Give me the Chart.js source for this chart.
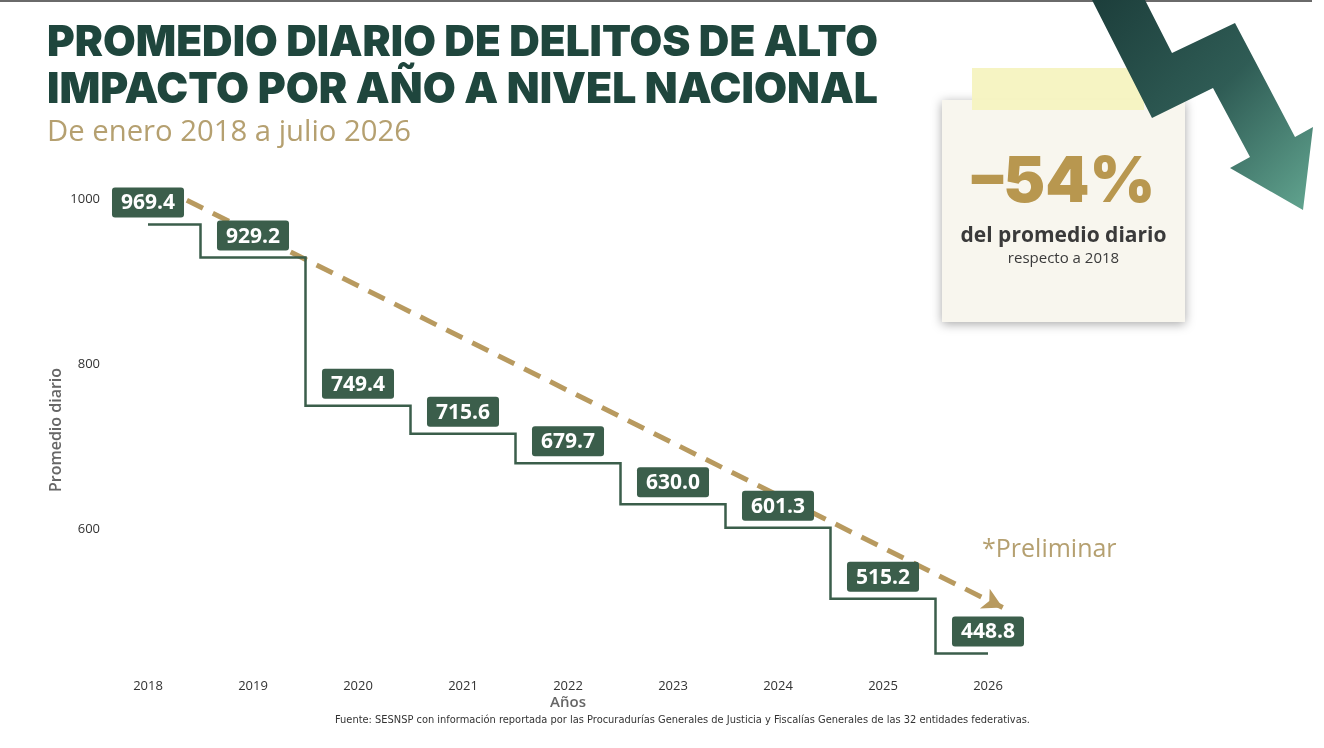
<!DOCTYPE html>
<html lang="es">
<head>
<meta charset="utf-8">
<title>Promedio diario de delitos de alto impacto</title>
<script src="https://cdn.jsdelivr.net/npm/chart.js@4.4.1/dist/chart.umd.min.js"></script>
<style>
  html, body { margin: 0; padding: 0; background: #fff; width: 1324px; height: 748px; overflow: hidden; font-family: 'Open Sans', sans-serif; }
  #wrap { position: relative; width: 1324px; height: 748px; }
  #topbar { position: absolute; left: 0; top: 0; width: 1312px; height: 2px; background: #6a6a6a; }
  #chart { position: absolute; left: 0; top: 0; }
  .abs { position: absolute; white-space: nowrap; }
  .title { left: 47px; font-family: Inter, 'Noto Sans', sans-serif; font-weight: 900; font-size: 43px; line-height: 1; color: #1f463d; transform-origin: left center; }
  #subtitle { left: 47px; top: 115px; font-size: 30px; line-height: 1; color: #b5a070; transform-origin: left center; }
  #card { left: 942px; top: 100px; width: 243px; height: 222px; background: #f8f6ee; box-shadow: 0 2px 10px rgba(0,0,0,0.35); }
  #tape { left: 972px; top: 68px; width: 172px; height: 42px; background: rgba(246,243,192,0.95); }
  .cardtxt { left: 942px; width: 243px; text-align: center; }
  #pct { top: 148px; font-family: Inter, sans-serif; font-weight: 900; font-size: 63px; line-height: 1; color: #b8974f; }
  #pctsub { top: 222px; font-size: 21px; font-weight: 700; line-height: 1.2; color: #3a3a3a; }
  #pctsub2 { top: 248px; font-size: 15px; line-height: 1.2; color: #3a3a3a; }
  #prelim { left: 982px; top: 531px; font-size: 25px; line-height: 1.3; color: #b5a070; }
  #source { left: 335px; top: 713px; font-family: 'Liberation Sans Narrow', 'DejaVu Sans Condensed', sans-serif; font-size: 11px; line-height: 1.2; color: #333; transform-origin: left center; }
  #arrow { position: absolute; left: 0; top: 0; pointer-events: none; }
</style>
</head>
<body>
<div id="wrap">
  <div id="topbar"></div>
  <canvas id="chart" width="1324" height="748"></canvas>

  <div class="abs title" id="t1" style="top:19px">PROMEDIO DIARIO DE DELITOS DE ALTO</div>
  <div class="abs title" id="t2" style="top:66px">IMPACTO POR AÑO A NIVEL NACIONAL</div>
  <div class="abs" id="subtitle">De enero 2018 a julio 2026</div>

  <div class="abs" id="card"></div>
  <div class="abs" id="tape"></div>
  <div class="abs cardtxt" id="pct">–54%</div>
  <div class="abs cardtxt" id="pctsub">del promedio diario</div>
  <div class="abs cardtxt" id="pctsub2">respecto a 2018</div>

  <svg id="arrow" width="1324" height="748">
    <defs>
      <linearGradient id="arrowGrad" x1="1100" y1="0" x2="1310" y2="210" gradientUnits="userSpaceOnUse">
        <stop offset="0" stop-color="#1d3f3c"/>
        <stop offset="0.5" stop-color="#2f5c55"/>
        <stop offset="1" stop-color="#62a590"/>
      </linearGradient>
    </defs>
    <polygon fill="url(#arrowGrad)"
      points="1092,0 1145,0 1172,53 1235,23 1295,137 1313,127 1303,210 1230,168 1250,157 1213,88 1152,118"/>
  </svg>

  <div class="abs" id="prelim">*Preliminar</div>
  <div class="abs" id="source">Fuente: SESNSP con información reportada por las Procuradurías Generales de Justicia y Fiscalías Generales de las 32 entidades federativas.</div>
</div>

<script>
// Data
const years = [2018, 2019, 2020, 2021, 2022, 2023, 2024, 2025, 2026];
const dailyAverage = [969.4, 929.2, 749.4, 715.6, 679.7, 630.0, 601.3, 515.2, 448.8];
const yTickValues = [600, 800, 1000];

// Dashed trend arrow (start / end, in data units)
const trendYears = [2018.37, 2026.14];
const trendValues = [998.8, 504.5];

const GREEN = '#3b5e4b';
const GOLD = '#b89a5f';

// Stretch a text block to a target width (condensed display fonts are not installed)
function fitWidth(id, target) {
    const el = document.getElementById(id);
    el.style.display = 'inline-block';
    const w = el.getBoundingClientRect().width;
    el.style.transform = `scaleX(${target / w})`;
}

// Boxed value labels above each step
const valueBoxes = {
    id: 'valueBoxes',
    afterDatasetsDraw(chart) {
        const { ctx } = chart;
        const meta = chart.getDatasetMeta(0);
        ctx.save();
        ctx.font = 'bold 21px "Open Sans"';
        ctx.textAlign = 'center';
        ctx.textBaseline = 'middle';
        meta.data.forEach((pt, i) => {
            const txt = dailyAverage[i].toFixed(1);
            const w = ctx.measureText(txt).width + 18;
            const h = 30;
            const cx = pt.x;
            const cy = pt.y - 22;
            ctx.fillStyle = GREEN;
            ctx.beginPath();
            ctx.roundRect(cx - w / 2, cy - h / 2, w, h, 3);
            ctx.fill();
            ctx.fillStyle = '#fff';
            ctx.fillText(txt, cx, cy + 1);
        });
        ctx.restore();
    }
};

// Arrow head at the end of the trend line
const trendHead = {
    id: 'trendHead',
    afterDatasetsDraw(chart) {
        const pts = chart.getDatasetMeta(1).data;
        if (pts.length < 2) return;
        const a = pts[pts.length - 2];
        const b = pts[pts.length - 1];
        const ang = Math.atan2(b.y - a.y, b.x - a.x);
        const { ctx } = chart;
        ctx.save();
        ctx.translate(b.x, b.y);
        ctx.rotate(ang);
        ctx.fillStyle = GOLD;
        ctx.beginPath();
        ctx.moveTo(0, 0);
        ctx.lineTo(-20, -11);
        ctx.lineTo(-15, 0);
        ctx.lineTo(-20, 11);
        ctx.closePath();
        ctx.fill();
        ctx.restore();
    }
};

Chart.defaults.font.family = '"Open Sans", sans-serif';

const chart = new Chart(document.getElementById('chart'), {
    type: 'line',
    data: {
        datasets: [{
            label: 'Promedio diario',
            data: years.map((y, i) => ({ x: y, y: dailyAverage[i] })),
            stepped: 'middle',
            borderColor: GREEN,
            borderWidth: 2.5,
            pointRadius: 0,
            fill: false,
            clip: false
        }, {
            label: 'Tendencia',
            data: trendYears.map((y, i) => ({ x: y, y: trendValues[i] })),
            borderColor: GOLD,
            borderWidth: 5,
            borderDash: [18, 11],
            pointRadius: 0,
            fill: false,
            clip: false
        }]
    },
    options: {
        responsive: false,
        animation: false,
        layout: {
            padding: { left: 0, right: 336, top: 191, bottom: 19 }
        },
        plugins: {
            legend: { display: false },
            tooltip: { enabled: false }
        },
        scales: {
            x: {
                type: 'linear',
                min: 2018,
                max: 2026,
                grid: { display: false, drawTicks: false },
                border: { display: false },
                ticks: {
                    stepSize: 1,
                    autoSkip: false,
                    maxRotation: 0,
                    padding: 9,
                    color: '#333',
                    font: { size: 13 },
                    callback: (v) => String(v)
                },
                title: {
                    display: true,
                    text: 'Años',
                    color: '#666',
                    font: { size: 15, weight: '600' },
                    padding: { top: 0, bottom: 17 }
                },
                afterFit: (scale) => { scale.height = 60; }
            },
            y: {
                min: 430,
                max: 1010,
                grid: { display: false, drawTicks: false },
                border: { display: false },
                afterBuildTicks: (scale) => {
                    scale.ticks = yTickValues.map(v => ({ value: v }));
                },
                ticks: {
                    padding: 48,
                    color: '#333',
                    font: { size: 13 },
                    callback: (v) => String(v)
                },
                title: {
                    display: true,
                    text: 'Promedio diario',
                    color: '#666',
                    font: { size: 16, weight: '600' },
                    padding: { top: 47, bottom: 0 }
                },
                afterFit: (scale) => { scale.width = 148; }
            }
        }
    },
    plugins: [valueBoxes, trendHead]
});

fitWidth('t1', 831);
fitWidth('t2', 831);
fitWidth('subtitle', 364);
fitWidth('source', 695);
</script>
</body>
</html>
